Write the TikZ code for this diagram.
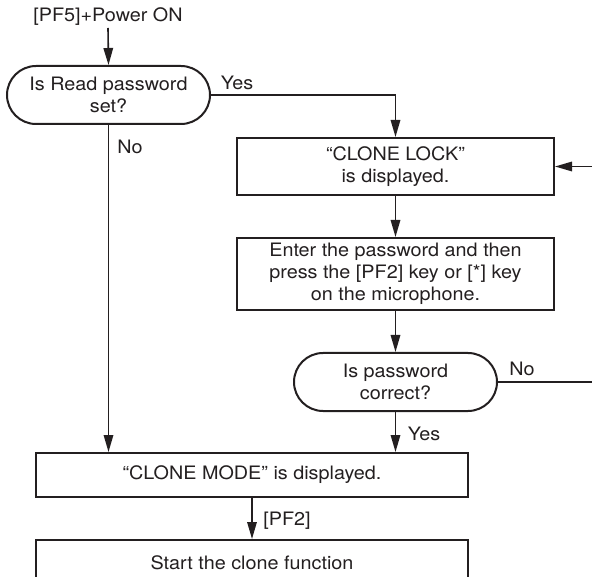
\documentclass[tikz,border=0pt]{standalone}
\usepackage{fontspec}
\setmainfont[FakeStretch=1.07]{TeX Gyre Heros}
\usetikzlibrary{arrows.meta}
\definecolor{ink}{HTML}{231F20}
\begin{document}
\begin{tikzpicture}[x=1pt,y=-1pt,
  every node/.style={font=\fontsize{18.5}{21.8}\selectfont, text=ink, align=center, inner sep=0pt},
  procbox/.style={draw=ink, line width=2pt, rectangle, anchor=center},
  termbox/.style={draw=ink, line width=2pt, rectangle, rounded corners=29pt,
    minimum width=203pt, minimum height=58pt, anchor=center},
  flow/.style={draw=ink, line width=1.6pt, -{Triangle[length=17pt,width=9.5pt]}},
  lbl/.style={anchor=center}]
  \useasboundingbox (0,0) rectangle (592,577);
  \clip (0,0) rectangle (592,577);

  % entry condition
  \node[lbl] (entry) at (108,17) {[PF5]+Power ON};
  \coordinate (entrybot) at (108,28);

  % first decision
  \node[termbox] (readpw) at (108.5,95) {Is Read password\\set?};

  % password branch
  \node[procbox, minimum width=317pt, minimum height=57pt] (lock) at (395.5,166.5)
    {“CLONE LOCK”\\is displayed.};
  \node[procbox, minimum width=317pt, minimum height=72pt] (enter) at (395.5,274)
    {Enter the password and then\\press the [PF2] key or [*] key\\on the microphone.};
  \node[termbox] (check) at (395.5,382) {Is password\\correct?};

  % clone mode
  \node[procbox, minimum width=432pt, minimum height=44pt] (mode) at (252,475)
    {“CLONE MODE” is displayed.};
  \node[procbox, minimum width=432pt, minimum height=46pt] (startfn) at (252,563)
    {Start the clone function};

  % return path on the right edge
  \coordinate (retx) at (600,0);

  % connectors
  \draw[flow] (entrybot) -- (readpw.north);
  \draw[flow] (readpw.east) -- (readpw.east -| lock.north) -- (lock.north);
  \draw[flow] (readpw.south) -- (readpw.south |- mode.north);
  \draw[flow] (lock.south) -- (enter.north);
  \draw[flow] (enter.south) -- (check.north);
  \draw[flow] (check.south) -- (check.south |- mode.north);
  \draw[flow] (check.east) -- (check.east -| retx) |- (lock.east);
  \draw[flow] (mode.south) -- (startfn.north);

  % branch labels
  \node[lbl] (yes1) at (237,83) {Yes};
  \node[lbl] (no1) at (130,147) {No};
  \node[lbl] (no2) at (522,369) {No};
  \node[lbl] (yes2) at (424,434) {Yes};
  \node[lbl] (pf2) at (287,521) {[PF2]};
\end{tikzpicture}
\end{document}
